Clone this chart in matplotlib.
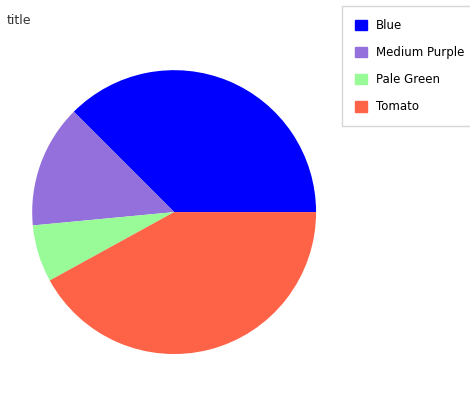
import matplotlib.pyplot as plt

labels = ["Blue", "Medium Purple", "Pale Green", "Tomato"]
values = [37.5, 14, 6.5, 42]
colors = ["#0000ff", "#9370db", "#98fb98", "#ff6347"]

fig = plt.figure(figsize=(4.7, 4), dpi=100)
ax = fig.add_axes([-0.007, 0.026, 0.755, 0.8875])
ax.pie(values, colors=colors, startangle=0, counterclock=True)
ax.set_aspect("equal")
fig.text(0.015, 0.965, "title", fontsize=9, va="top", color="#333333")

handles = [plt.Rectangle((0, 0), 1, 1, color=c) for c in colors]
leg = fig.legend(handles, labels, loc="upper left", bbox_to_anchor=(0.715, 1.0),
                 frameon=True, fontsize=8.5, handlelength=1, handleheight=1,
                 labelspacing=1.2, borderpad=1.1, fancybox=False)
leg.get_frame().set_edgecolor("#cccccc")

fig.savefig("out.png")
